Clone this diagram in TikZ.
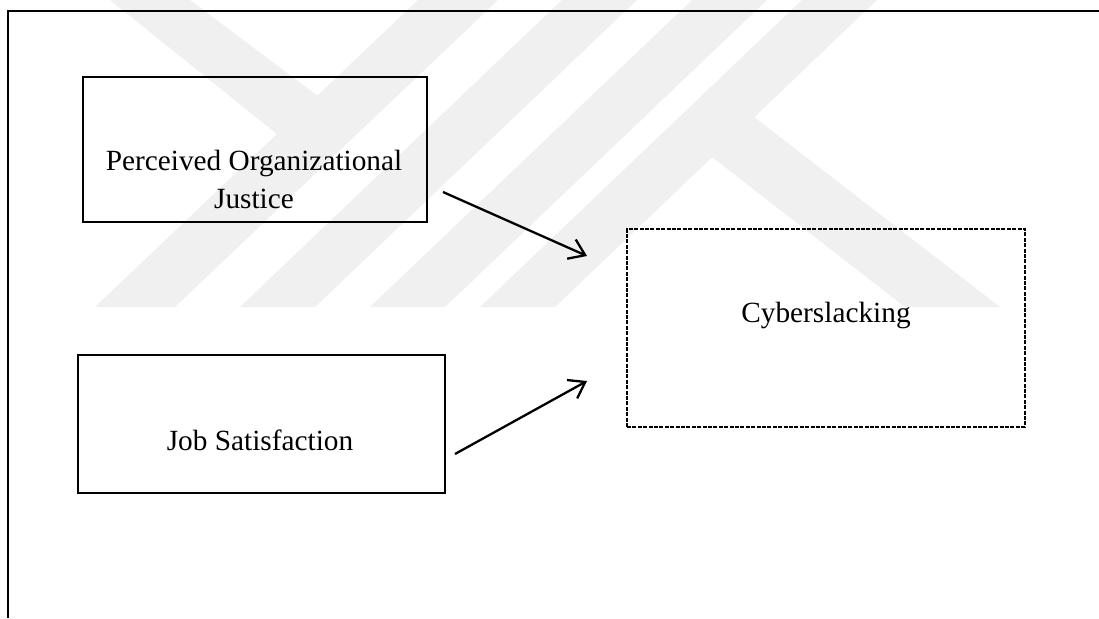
\documentclass[tikz,border=0pt]{standalone}
\usepackage{fontspec}
\setmainfont{Liberation Serif}
\usetikzlibrary{arrows.meta,calc}
\begin{document}
\begin{tikzpicture}[x=1pt,y=-1pt,
  box/.style={draw=black, line width=2.2pt, rectangle, inner sep=0pt, outer sep=0pt},
  dbox/.style={draw=black, line width=1.4pt, dash pattern=on 4pt off 1.4pt, rectangle, inner sep=0pt, outer sep=0pt},
  lbl/.style={font=\fontsize{29.3}{36}\selectfont, inner sep=0pt, anchor=base},
  arr/.style={line width=2.3pt, -{Straight Barb[length=15pt,width=21pt,line width=2.3pt]}},
  wm/.style={fill=black!6, draw=none}]
\useasboundingbox (0,0) rectangle (1099,618);
\fill[white] (0,0) rectangle (1099,618);
% faint watermark bands
\fill[wm] (95,307) -- (175,307) -- (498,0) -- (418,0) -- cycle;
\fill[wm] (110,0) -- (190,0) -- (319,97) -- (277,134) -- cycle;
\fill[wm] (240,307) -- (315,307) -- (637,0) -- (562,0) -- cycle;
\fill[wm] (370,307) -- (445,307) -- (767,0) -- (692,0) -- cycle;
\fill[wm] (480,307) -- (555,307) -- (877,0) -- (802,0) -- cycle;
\fill[wm] (712,157) -- (754,117) -- (1000,307) -- (905,307) -- cycle;
% frame
\draw[line width=2.4pt] (8,618) -- (8,11) -- (1099,11);
% boxes
\node[box, minimum width=344pt, minimum height=145pt] (poj) at (255,149.5) {};
\node[box, minimum width=367pt, minimum height=138pt] (job) at (261.5,424) {};
\node[dbox, minimum width=398pt, minimum height=198pt] (cyb) at (826,328) {};
% labels
\node[lbl] (pojA) at (254,170) {Perceived Organizational};
\node[lbl] (pojB) at (254,208) {Justice};
\node[lbl] (jobt) at (260,450) {Job Satisfaction};
\node[lbl] (cybt) at (826,322) {Cyberslacking};
% arrows
\draw[arr] ($(poj.south east)+(16,-30)$) -- ($(cyb.north west)+(-40,27)$);
\draw[arr] ($(job.east)+(10,30)$) -- ($(cyb.south west)+(-40,-46)$);
\end{tikzpicture}
\end{document}
